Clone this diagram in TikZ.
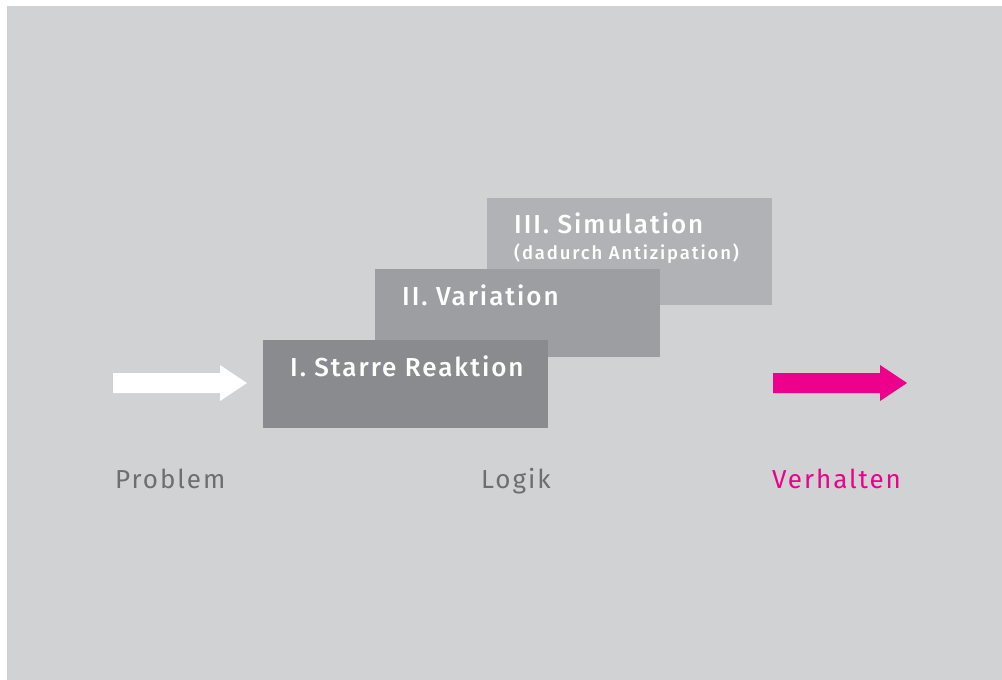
\documentclass[tikz,border=0pt]{standalone}
\usepackage{fontspec}
\setmainfont{Fira Sans}[BoldFont={Fira Sans Medium}]
\definecolor{bggrey}{HTML}{D1D2D4}
\definecolor{boxone}{HTML}{8A8B8E}
\definecolor{boxtwo}{HTML}{9D9EA1}
\definecolor{boxthree}{HTML}{B1B2B5}
\definecolor{labelgrey}{HTML}{6D6E71}
\definecolor{magentaish}{HTML}{EC008C}
\begin{document}
\begin{tikzpicture}[x=1pt,y=-1pt,
  stage/.style={fill=#1,draw=none},
  stagelabel/.style={anchor=base west,inner sep=0pt,text=white,font=\bfseries\fontsize{26}{30}\selectfont\addfontfeatures{LetterSpace=7.5}},
  sublabel/.style={anchor=base west,inner sep=0pt,text=white,font=\bfseries\fontsize{18.5}{22}\selectfont\addfontfeatures{LetterSpace=10}},
  bottomlabel/.style={anchor=base west,inner sep=0pt,font=\fontsize{26}{30}\selectfont\addfontfeatures{LetterSpace=7.5}},
  arrowshape/.style={fill=#1,draw=none}]
\useasboundingbox (0,0) rectangle (1002,680);
\fill[white] (0,0) rectangle (1002,680);
\fill[bggrey] (7,6) rectangle (1002,680);
% stages
\fill[stage=boxthree] (487,198) rectangle (772,305);
\fill[stage=boxtwo] (375,269) rectangle (660,357);
\fill[stage=boxone] (263,340) rectangle (548,428);
\node[stagelabel] (s3) at (514,233) {III. Simulation};
\node[sublabel] (s3b) at (514,259) {(dadurch Antizipation)};
\node[stagelabel] (s2) at (402,305) {II. Variation};
\node[stagelabel] (s1) at (290,376) {I. Starre Reaktion};
% arrows
\fill[arrowshape=white] (113,373) -- (220,373) -- (220,365) -- (247,383) -- (220,401) -- (220,393) -- (113,393) -- cycle;
\fill[arrowshape=magentaish] (773,373) -- (880,373) -- (880,365) -- (907,383) -- (880,401) -- (880,393) -- (773,393) -- cycle;
% bottom labels
\node[bottomlabel,text=labelgrey] (p) at (115,488) {Problem};
\node[bottomlabel,text=labelgrey] (l) at (481,488) {Logik};
\node[bottomlabel,text=magentaish] (v) at (772,488) {Verhalten};
\end{tikzpicture}
\end{document}
